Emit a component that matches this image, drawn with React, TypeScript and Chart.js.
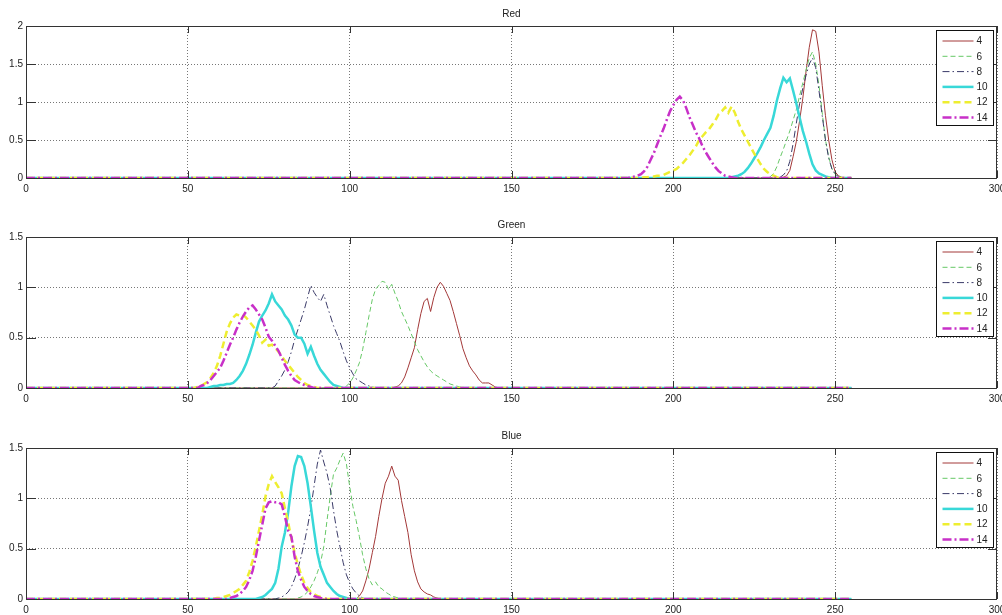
import React, { useEffect, useRef } from 'react';
import { Chart, registerables } from 'chart.js';

Chart.register(...registerables);

// ---------------- data ----------------
const seriesLabels = ['4', '6', '8', '10', '12', '14'];
const channelTitles = ['Red', 'Green', 'Blue'];
const xTickValues = [0, 50, 100, 150, 200, 250, 300];
const redYTickValues = [0, 0.5, 1, 1.5, 2];
const greenYTickValues = [0, 0.5, 1, 1.5];
const blueYTickValues = [0, 0.5, 1, 1.5];
const histLastBin = 255;

// first bin of each series' non-zero run (4, 6, 8, 10, 12, 14)
const redStarts = [233, 229, 232, 217, 190, 186];
const red4 = [0.00, 0.01, 0.03, 0.10, 0.28, 0.48, 0.75, 1.05, 1.40, 1.72, 1.95, 1.93, 1.66, 1.22, 0.82, 0.50, 0.24, 0.08, 0.03, 0.01, 0.00];
const red6 = [0.00, 0.02, 0.06, 0.15, 0.27, 0.38, 0.50, 0.62, 0.76, 0.90, 1.08, 1.25, 1.42, 1.58, 1.66, 1.50, 1.22, 0.86, 0.50, 0.28, 0.12, 0.05, 0.02, 0.00];
const red8 = [0.00, 0.01, 0.04, 0.09, 0.22, 0.45, 0.72, 0.98, 1.18, 1.35, 1.50, 1.58, 1.45, 1.15, 0.82, 0.50, 0.26, 0.12, 0.05, 0.02, 0.00];
const red10 = [0.00, 0.01, 0.02, 0.03, 0.05, 0.08, 0.13, 0.19, 0.26, 0.33, 0.41, 0.50, 0.58, 0.66, 0.82, 1.02, 1.18, 1.32, 1.26, 1.31, 1.15, 0.98, 0.80, 0.62, 0.48, 0.32, 0.18, 0.10, 0.06, 0.04, 0.02, 0.01, 0.00];
const red12 = [0.00, 0.01, 0.01, 0.02, 0.02, 0.03, 0.03, 0.04, 0.06, 0.08, 0.10, 0.12, 0.16, 0.20, 0.25, 0.30, 0.36, 0.42, 0.50, 0.55, 0.60, 0.64, 0.70, 0.76, 0.84, 0.88, 0.93, 0.86, 0.94, 0.86, 0.74, 0.64, 0.56, 0.48, 0.40, 0.32, 0.25, 0.18, 0.12, 0.08, 0.05, 0.03, 0.01, 0.00];
const red14 = [0.00, 0.01, 0.02, 0.03, 0.05, 0.09, 0.15, 0.24, 0.33, 0.44, 0.55, 0.65, 0.77, 0.88, 0.96, 1.03, 1.07, 1.02, 0.92, 0.80, 0.70, 0.60, 0.52, 0.42, 0.34, 0.27, 0.20, 0.14, 0.09, 0.06, 0.03, 0.02, 0.01, 0.00];

const greenStarts = [113, 98, 76, 56, 52, 53];
const green4 = [0.00, 0.01, 0.02, 0.05, 0.11, 0.20, 0.30, 0.40, 0.58, 0.74, 0.86, 0.89, 0.76, 0.90, 1.00, 1.05, 1.01, 0.94, 0.87, 0.76, 0.64, 0.52, 0.39, 0.30, 0.22, 0.17, 0.13, 0.08, 0.05, 0.05, 0.05, 0.03, 0.01, 0.00];
const green6 = [0.00, 0.02, 0.05, 0.10, 0.17, 0.25, 0.38, 0.55, 0.72, 0.88, 0.98, 1.02, 1.06, 1.05, 0.98, 1.03, 0.94, 0.86, 0.76, 0.69, 0.62, 0.54, 0.46, 0.38, 0.32, 0.26, 0.21, 0.17, 0.14, 0.12, 0.10, 0.08, 0.06, 0.04, 0.03, 0.02, 0.01, 0.00];
const green8 = [0.00, 0.02, 0.07, 0.12, 0.18, 0.26, 0.36, 0.48, 0.58, 0.68, 0.78, 0.90, 1.02, 0.95, 0.90, 0.86, 0.93, 0.82, 0.72, 0.62, 0.54, 0.46, 0.36, 0.27, 0.20, 0.14, 0.09, 0.07, 0.05, 0.03, 0.02, 0.01, 0.00];
const green10 = [0.00, 0.01, 0.02, 0.02, 0.03, 0.03, 0.04, 0.04, 0.05, 0.08, 0.12, 0.17, 0.24, 0.33, 0.43, 0.55, 0.66, 0.72, 0.77, 0.84, 0.93, 0.86, 0.82, 0.78, 0.72, 0.68, 0.62, 0.53, 0.50, 0.50, 0.44, 0.34, 0.41, 0.32, 0.24, 0.18, 0.14, 0.10, 0.06, 0.03, 0.02, 0.01, 0.00];
const green12 = [0.00, 0.01, 0.02, 0.04, 0.06, 0.10, 0.15, 0.22, 0.32, 0.44, 0.56, 0.64, 0.70, 0.73, 0.72, 0.73, 0.70, 0.66, 0.62, 0.58, 0.52, 0.45, 0.48, 0.42, 0.43, 0.40, 0.36, 0.32, 0.27, 0.23, 0.19, 0.15, 0.11, 0.08, 0.05, 0.03, 0.02, 0.01, 0.00];
const green14 = [0.00, 0.02, 0.03, 0.05, 0.08, 0.12, 0.16, 0.20, 0.27, 0.35, 0.43, 0.50, 0.58, 0.65, 0.71, 0.76, 0.80, 0.82, 0.78, 0.73, 0.68, 0.60, 0.51, 0.47, 0.42, 0.37, 0.30, 0.23, 0.17, 0.12, 0.08, 0.06, 0.04, 0.03, 0.02, 0.01, 0.00];

const blueStarts = [102, 83, 77, 71, 58, 62];
const blue4 = [0.00, 0.03, 0.08, 0.18, 0.30, 0.46, 0.62, 0.82, 1.00, 1.15, 1.22, 1.32, 1.22, 1.18, 0.98, 0.82, 0.66, 0.44, 0.28, 0.17, 0.10, 0.07, 0.05, 0.04, 0.02, 0.01, 0.00];
const blue6 = [0.00, 0.01, 0.02, 0.04, 0.07, 0.12, 0.18, 0.26, 0.36, 0.52, 0.78, 1.02, 1.24, 1.30, 1.38, 1.45, 1.34, 1.12, 0.92, 0.78, 0.62, 0.44, 0.30, 0.20, 0.14, 0.17, 0.12, 0.10, 0.07, 0.05, 0.03, 0.02, 0.01, 0.00];
const blue8 = [0.00, 0.01, 0.02, 0.04, 0.07, 0.12, 0.20, 0.30, 0.42, 0.56, 0.72, 0.90, 1.12, 1.34, 1.48, 1.36, 1.25, 1.10, 0.88, 0.68, 0.52, 0.36, 0.24, 0.16, 0.10, 0.06, 0.03, 0.01, 0.00];
const blue10 = [0.00, 0.01, 0.02, 0.04, 0.07, 0.10, 0.16, 0.30, 0.52, 0.66, 0.86, 1.12, 1.32, 1.42, 1.41, 1.32, 1.15, 0.92, 0.68, 0.46, 0.32, 0.24, 0.16, 0.12, 0.08, 0.05, 0.03, 0.02, 0.01, 0.00];
const blue12 = [0.00, 0.01, 0.01, 0.02, 0.03, 0.04, 0.06, 0.08, 0.10, 0.14, 0.18, 0.27, 0.38, 0.52, 0.68, 0.84, 1.02, 1.14, 1.22, 1.16, 1.11, 1.05, 0.90, 0.76, 0.60, 0.46, 0.34, 0.24, 0.16, 0.11, 0.07, 0.05, 0.03, 0.02, 0.01, 0.00];
const blue14 = [0.00, 0.01, 0.02, 0.03, 0.05, 0.08, 0.12, 0.19, 0.28, 0.42, 0.58, 0.74, 0.90, 0.96, 0.97, 0.96, 0.96, 0.94, 0.82, 0.68, 0.62, 0.42, 0.28, 0.19, 0.12, 0.08, 0.05, 0.03, 0.02, 0.01, 0.00];

const redSeries = [red4, red6, red8, red10, red12, red14];
const greenSeries = [green4, green6, green8, green10, green12, green14];
const blueSeries = [blue4, blue6, blue8, blue10, blue12, blue14];

// ---------------- styles ----------------
const FONT = '"Liberation Sans", Arial, sans-serif';
const FONT_SIZE = 10;
const lineColors = ['#a33838', '#66c866', '#3a3a68', '#38d8d8', '#eeee30', '#c830c8'];
const lineWidths = [1, 1, 1, 2.5, 2.5, 2.5];
const lineDashes: number[][] = [[], [5, 3], [7, 3, 1.5, 3], [], [7, 4], [9, 3, 2, 3]];

function buildPoints(start: number, values: number[]) {
  const pts = [{ x: 0, y: 0 }];
  values.forEach((y, i) => pts.push({ x: start + i, y }));
  pts.push({ x: histLastBin, y: 0 });
  return pts;
}

function overlayPlugin(title: string) {
  return {
    id: 'overlay',
    afterDraw(chart: any) {
      const { ctx, chartArea: a, scales } = chart;
      ctx.save();
      // title
      ctx.fillStyle = '#222';
      ctx.font = `${FONT_SIZE}px ${FONT}`;
      ctx.textAlign = 'center';
      ctx.textBaseline = 'middle';
      ctx.fillText(title, (a.left + a.right) / 2, a.top - 11.5);
      // frame
      ctx.setLineDash([]);
      ctx.strokeStyle = '#333';
      ctx.lineWidth = 1;
      ctx.strokeRect(Math.round(a.left) + 0.5, Math.round(a.top) + 0.5, Math.round(a.right - a.left) - 1, Math.round(a.bottom - a.top));
      // inward ticks
      ctx.beginPath();
      scales.x.ticks.forEach((t: any) => {
        const px = Math.round(scales.x.getPixelForValue(t.value)) + 0.5;
        ctx.moveTo(px, a.bottom); ctx.lineTo(px, a.bottom - 7);
        ctx.moveTo(px, a.top); ctx.lineTo(px, a.top + 7);
      });
      scales.y.ticks.forEach((t: any) => {
        const py = Math.round(scales.y.getPixelForValue(t.value)) + 0.5;
        ctx.moveTo(a.left, py); ctx.lineTo(a.left + 10, py);
        ctx.moveTo(a.right, py); ctx.lineTo(a.right - 9, py);
      });
      ctx.stroke();
      // legend
      const bx = Math.round(a.right - 61) + 0.5;
      const by = Math.round(a.top + 4) + 0.5;
      const bw = 57;
      const bh = 95;
      ctx.fillStyle = '#fff';
      ctx.fillRect(bx, by, bw, bh);
      ctx.strokeStyle = '#111';
      ctx.lineWidth = 1;
      ctx.strokeRect(bx, by, bw, bh);
      chart.data.datasets.forEach((ds: any, i: number) => {
        const y = by + 10.5 + i * 15.3;
        ctx.beginPath();
        ctx.setLineDash(ds.borderDash || []);
        ctx.strokeStyle = ds.borderColor;
        ctx.lineWidth = ds.borderWidth;
        ctx.moveTo(bx + 6, y);
        ctx.lineTo(bx + 37, y);
        ctx.stroke();
        ctx.setLineDash([]);
        ctx.fillStyle = '#222';
        ctx.textAlign = 'left';
        ctx.textBaseline = 'middle';
        ctx.fillText(ds.label, bx + 40, y + 0.5);
      });
      ctx.restore();
    },
  };
}

type PanelProps = {
  title: string;
  starts: number[];
  series: number[][];
  yTicks: number[];
  top: number;
  height: number;
};

function HistPanel({ title, starts, series, yTicks, top, height }: PanelProps) {
  const ref = useRef<HTMLCanvasElement>(null);
  useEffect(() => {
    const yMax = yTicks[yTicks.length - 1];
    const tickFont = { family: FONT, size: FONT_SIZE };
    const chart = new Chart(ref.current as HTMLCanvasElement, {
      type: 'line',
      data: {
        datasets: series.map((vals, i) => ({
          label: seriesLabels[i],
          data: buildPoints(starts[i], vals),
          borderColor: lineColors[i],
          borderWidth: lineWidths[i],
          borderDash: lineDashes[i],
          pointRadius: 0,
          tension: 0,
          fill: false,
          order: 5 - i,
        })),
      },
      options: {
        animation: false,
        responsive: false,
        events: [],
        layout: { padding: { top: 26, right: 5, left: 0, bottom: 0 } },
        plugins: {
          legend: { display: false },
          title: { display: false },
          tooltip: { enabled: false },
        },
        scales: {
          x: {
            type: 'linear',
            min: 0,
            max: 300,
            afterBuildTicks: (s: any) => { s.ticks = xTickValues.map((v) => ({ value: v })); },
            afterFit: (s: any) => { s.height = 16; s.paddingLeft = 0; s.paddingRight = 0; },
            grid: { color: '#777', drawTicks: false, lineWidth: 1 },
            border: { display: false, dash: [1, 2] },
            ticks: { padding: 5, color: '#222', font: tickFont, maxRotation: 0, autoSkip: false, callback: (v: any) => String(v) },
          },
          y: {
            type: 'linear',
            min: 0,
            max: yMax,
            afterBuildTicks: (s: any) => { s.ticks = yTicks.map((v) => ({ value: v })); },
            afterFit: (s: any) => { s.width = 26; },
            grid: { color: '#777', drawTicks: false, lineWidth: 1 },
            border: { display: false, dash: [1, 2] },
            ticks: { padding: 3, color: '#222', font: tickFont, autoSkip: false, callback: (v: any) => String(v) },
          },
        },
      } as any,
      plugins: [overlayPlugin(title)],
    });
    return () => chart.destroy();
  }, []);
  return (
    <canvas
      ref={ref}
      width={1002}
      height={height}
      style={{ position: 'absolute', left: 0, top, width: 1002, height, display: 'block' }}
    />
  );
}

export default function App() {
  return (
    <div style={{ position: 'fixed', left: 0, top: 0, width: 1002, height: 615, overflow: 'hidden', background: '#fff' }}>
      <HistPanel title={channelTitles[0]} starts={redStarts} series={redSeries} yTicks={redYTickValues} top={0} height={194} />
      <HistPanel title={channelTitles[1]} starts={greenStarts} series={greenSeries} yTicks={greenYTickValues} top={211} height={193} />
      <HistPanel title={channelTitles[2]} starts={blueStarts} series={blueSeries} yTicks={blueYTickValues} top={422} height={193} />
    </div>
  );
}
